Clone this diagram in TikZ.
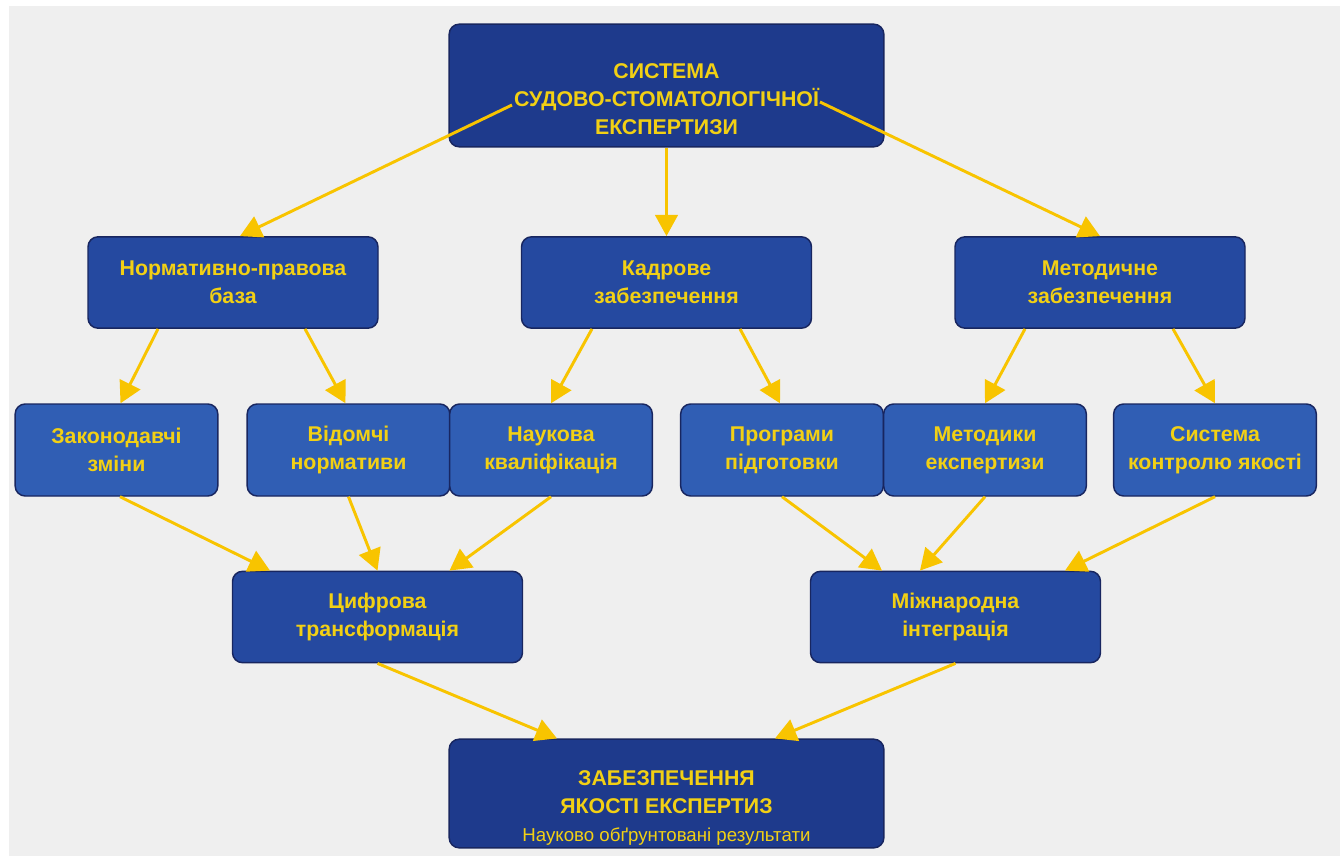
\documentclass[tikz,border=0pt]{standalone}
\usepackage{fontspec}
\setmainfont{Liberation Sans}
\usetikzlibrary{positioning, arrows.meta, calc}
\definecolor{PageGrey}{RGB}{239,239,239}
\definecolor{DeepBlue}{RGB}{30,58,140}
\definecolor{MidBlue}{RGB}{37,73,160}
\definecolor{LightBlue}{RGB}{48,94,180}
\definecolor{BoxEdge}{RGB}{24,38,96}
\definecolor{TextGold}{RGB}{242,208,20}
\definecolor{ArrowGold}{RGB}{248,196,0}
\tikzstyle{arrow} = [line width=2.2pt, ArrowGold, -{Triangle[length=16pt, width=17pt]}]
\tikzstyle{box} = [draw=BoxEdge, line width=1.1pt, rounded corners=7.5pt, text=TextGold, font=\bfseries\fontsize{16}{21}\selectfont, align=center, inner sep=0pt]
\tikzstyle{mainbox} = [box, fill=DeepBlue, minimum width=326pt]
\tikzstyle{groupbox} = [box, fill=MidBlue, minimum width=217.5pt, minimum height=68.5pt]
\tikzstyle{itembox} = [box, fill=LightBlue, minimum width=152pt, minimum height=69pt]
\tikzstyle{maintext} = [text=TextGold, font=\bfseries\fontsize{16}{21}\selectfont, align=center, inner sep=0pt]

\begin{document}
\begin{tikzpicture}[x=0.75pt, y=-0.75pt]
    \useasboundingbox (0,0) rectangle (1340,856);
    \fill[PageGrey] (9,6) rectangle (1340,856);

    % top
    \node[mainbox, minimum height=92pt] (sys) at (666.5,85.5) {};
    \node[maintext] (systext) at ($(sys.center)+(0,14)$) {СИСТЕМА\\СУДОВО-СТОМАТОЛОГІЧНОЇ\\ЕКСПЕРТИЗИ};

    % second level
    \node[groupbox] (norm) at (233,282.5) {Нормативно-правова\\база};
    \node[groupbox] (kadr) at (666.5,282.5) {Кадрове\\забезпечення};
    \node[groupbox] (metod) at (1100,282.5) {Методичне\\забезпечення};

    % third level
    \node[itembox] (zakon) at (116.5,450) {Законодавчі\\зміни};
    \node[itembox] (vidom) at (348.5,450) {Відомчі\\нормативи};
    \node[itembox] (nauk) at (551,450) {Наукова\\кваліфікація};
    \node[itembox] (progr) at (782,450) {Програми\\підготовки};
    \node[itembox] (metodyky) at (985,450) {Методики\\експертизи};
    \node[itembox] (kontrol) at (1215,450) {Система\\контролю якості};

    % fourth level
    \node[groupbox] (tsyfr) at (377.5,617) {Цифрова\\трансформація};
    \node[groupbox] (mizhn) at (955.5,617) {Міжнародна\\інтеграція};

    % bottom
    \node[mainbox, minimum height=81.5pt] (quality) at (666.5,793.5) {};
    \node[maintext] (qualitytext) at ($(quality.center)+(0,14)$) {ЗАБЕЗПЕЧЕННЯ\\ЯКОСТІ ЕКСПЕРТИЗ\\ \mdseries\fontsize{14}{20}\selectfont Науково обґрунтовані результати};

    % arrows
    \draw[arrow] ($(sys.center)+(-154.5,19.5)$) -- ($(norm.north)+(7,0)$);
    \draw[arrow] (sys.south) -- (kadr.north);
    \draw[arrow] ($(sys.center)+(153.5,16.5)$) -- (metod.north);

    \draw[arrow] ($(norm.south)+(-75,0)$) -- ($(zakon.north)+(4,0)$);
    \draw[arrow] ($(norm.south)+(72,0)$) -- ($(vidom.north)+(-3,0)$);
    \draw[arrow] ($(kadr.south)+(-74.5,0)$) -- (nauk.north);
    \draw[arrow] ($(kadr.south)+(73.5,0)$) -- ($(progr.north)+(-2,0)$);
    \draw[arrow] ($(metod.south)+(-75,0)$) -- (metodyky.north);
    \draw[arrow] ($(metod.south)+(73,0)$) -- (kontrol.north);

    \draw[arrow] ($(zakon.south)+(3.5,0)$) -- ($(tsyfr.north)+(-107.5,0)$);
    \draw[arrow] (vidom.south) -- (tsyfr.north);
    \draw[arrow] (nauk.south) -- ($(tsyfr.north)+(72,0)$);
    \draw[arrow] (progr.south) -- ($(mizhn.north)+(-73.5,0)$);
    \draw[arrow] (metodyky.south) -- ($(mizhn.north)+(-35.5,0)$);
    \draw[arrow] (kontrol.south) -- ($(mizhn.north)+(109.5,0)$);

    \draw[arrow] (tsyfr.south) -- ($(quality.north)+(-109.5,0)$);
    \draw[arrow] (mizhn.south) -- ($(quality.north)+(108.5,0)$);
\end{tikzpicture}
\end{document}
